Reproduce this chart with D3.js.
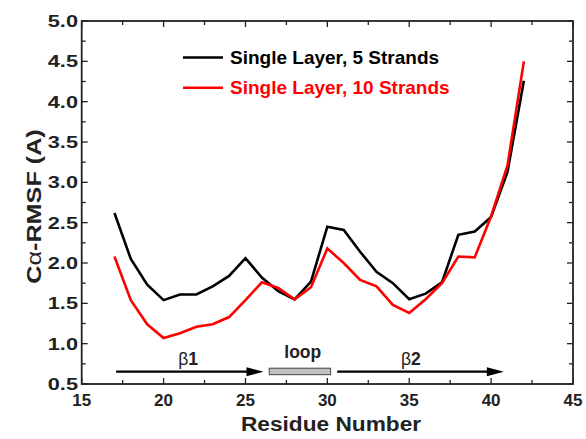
<!DOCTYPE html>
<html><head><meta charset="utf-8">
<script src="https://cdn.jsdelivr.net/npm/d3@7"></script>
<style>body{margin:0;background:#fff}svg{display:block}text{font-family:"Liberation Sans",Arial,sans-serif}</style>
</head><body><div id="chart"></div>
<script>
const residues = [17,18,19,20,21,22,23,24,25,26,27,28,29,30,31,32,33,34,35,36,37,38,39,40,41,42];
const fiveStrands = [2.62,2.05,1.73,1.54,1.61,1.61,1.71,1.84,2.06,1.82,1.65,1.55,1.77,2.45,2.41,2.14,1.89,1.75,1.55,1.62,1.76,2.35,2.39,2.57,3.13,4.26];
const tenStrands  = [2.08,1.54,1.24,1.07,1.13,1.21,1.24,1.33,1.54,1.76,1.69,1.55,1.70,2.18,2.00,1.79,1.71,1.48,1.38,1.55,1.75,2.08,2.07,2.58,3.21,4.50];
const seriesNames = ["Single Layer, 5 Strands","Single Layer, 10 Strands"];
const xTicks = [15,20,25,30,35,40,45];
const yTicks = [0.5,1.0,1.5,2.0,2.5,3.0,3.5,4.0,4.5,5.0];
const regionLabels = ["\u03b21","loop","\u03b22"];
const regionStart = [17.1,26.45,30.6];
const regionEnd = [26.1,30.2,40.78];
const regionLabelAt = [21.5,28.5,35.1];
const regionType = ["arrow","box","arrow"];

const W=586,H=439, L=81.7, R=573, T=21, B=384;
const svg=d3.select("#chart").append("svg").attr("width",W).attr("height",H);
const x=d3.scaleLinear().domain([15,45]).range([L,R]);
const y=d3.scaleLinear().domain([0.5,5.0]).range([B,T]);
const ink="#222";

const minorX=d3.range(15,45.01,2.5), minorY=d3.range(0.5,5.01,0.25);
const isMajX=d=>d%5===0, isMajY=d=>Math.abs(d*2-Math.round(d*2))<1e-6;
const g=svg.append("g");
g.selectAll(".tb").data(minorX).join("line").attr("x1",d=>x(d)).attr("x2",d=>x(d)).attr("y1",B).attr("y2",d=>B-(isMajX(d)?6:4)).attr("stroke",ink).attr("stroke-width",1.3);
g.selectAll(".tt").data(minorX).join("line").attr("x1",d=>x(d)).attr("x2",d=>x(d)).attr("y1",T).attr("y2",d=>T+(isMajX(d)?6:4)).attr("stroke",ink).attr("stroke-width",1.3);
g.selectAll(".tl").data(minorY).join("line").attr("y1",d=>y(d)).attr("y2",d=>y(d)).attr("x1",L).attr("x2",d=>L+(isMajY(d)?6:4)).attr("stroke",ink).attr("stroke-width",1.3);
g.selectAll(".tr").data(minorY).join("line").attr("y1",d=>y(d)).attr("y2",d=>y(d)).attr("x1",R).attr("x2",d=>R-(isMajY(d)?6:4)).attr("stroke",ink).attr("stroke-width",1.3);
g.append("rect").attr("x",L).attr("y",T).attr("width",R-L).attr("height",B-T).attr("fill","none").attr("stroke",ink).attr("stroke-width",1.8);

// tick labels
svg.selectAll(".xl").data(xTicks).join("text").attr("x",d=>x(d)).attr("y",406).attr("text-anchor","middle").attr("font-size",17).attr("font-weight","bold").attr("fill",ink).text(d=>d);
svg.selectAll(".yl").data(yTicks).join("text").attr("transform",d=>`translate(78,${y(d)+6}) scale(1.28,1)`).attr("text-anchor","end").attr("font-size",17).attr("font-weight","bold").attr("fill",ink).text(d=>d.toFixed(1));

// axis titles
svg.append("text").attr("transform","translate(331,431) scale(1.08,1)").attr("text-anchor","middle").attr("font-size",21).attr("font-weight","bold").attr("fill",ink).text("Residue Number");
const yt=svg.append("text").attr("transform","translate(41,206.5) rotate(-90) scale(1.2,1)").attr("text-anchor","middle").attr("font-size",21).attr("font-weight","bold").attr("fill",ink);
yt.append("tspan").text("C");
yt.append("tspan").attr("font-weight","normal").text("\u03b1");
yt.append("tspan").text("-RMSF (A)");

// lines
const line=d3.line().x((d,i)=>x(residues[i])).y(d=>y(d));
const colors=["#000","#ff0000"];
[fiveStrands,tenStrands].forEach((s,k)=>{
  svg.append("path").datum(s).attr("d",line).attr("fill","none").attr("stroke",colors[k]).attr("stroke-width",2.6).attr("stroke-linejoin","miter");
});

// legend
seriesNames.forEach((n,k)=>{
  const ly=57.5+k*30.3;
  svg.append("line").attr("x1",183).attr("x2",223).attr("y1",ly).attr("y2",ly).attr("stroke",colors[k]).attr("stroke-width",2.6);
  svg.append("text").attr("x",230).attr("y",ly+6).attr("font-size",19).attr("font-weight","bold").attr("fill",colors[k]).text(n);
});

// annotations
const defs=svg.append("defs");
defs.append("marker").attr("id","ah").attr("viewBox","0 0 10 10").attr("refX",10).attr("refY",5).attr("markerWidth",17).attr("markerHeight",9).attr("markerUnits","userSpaceOnUse").attr("orient","auto").attr("preserveAspectRatio","none")
 .append("path").attr("d","M0,0L10,5L0,10Z").attr("fill","#000");
const ay=371.7;
regionLabels.forEach((lab,i)=>{
  if(regionType[i]==="arrow"){
    svg.append("line").attr("x1",x(regionStart[i])).attr("x2",x(regionEnd[i])-6).attr("y1",ay).attr("y2",ay).attr("stroke","#000").attr("stroke-width",2.3);
    svg.append("path").attr("d",`M${x(regionEnd[i])-17},${ay-4.5}L${x(regionEnd[i])},${ay}L${x(regionEnd[i])-17},${ay+4.5}Z`).attr("fill","#000");
    const t=svg.append("text").attr("x",x(regionLabelAt[i])).attr("y",365).attr("text-anchor","middle").attr("font-size",17.5).attr("fill",ink);
    t.append("tspan").text(lab[0]);
    t.append("tspan").attr("font-weight","bold").text(lab.slice(1));
  } else {
    svg.append("rect").attr("x",x(regionStart[i])).attr("y",ay-3.5).attr("width",x(regionEnd[i])-x(regionStart[i])).attr("height",6.5).attr("fill","#c0c0c0").attr("stroke","#444").attr("stroke-width",1);
    svg.append("text").attr("x",x(regionLabelAt[i])).attr("y",358).attr("text-anchor","middle").attr("font-size",17.5).attr("font-weight","bold").attr("fill",ink).text(lab);
  }
});
</script></body></html>
